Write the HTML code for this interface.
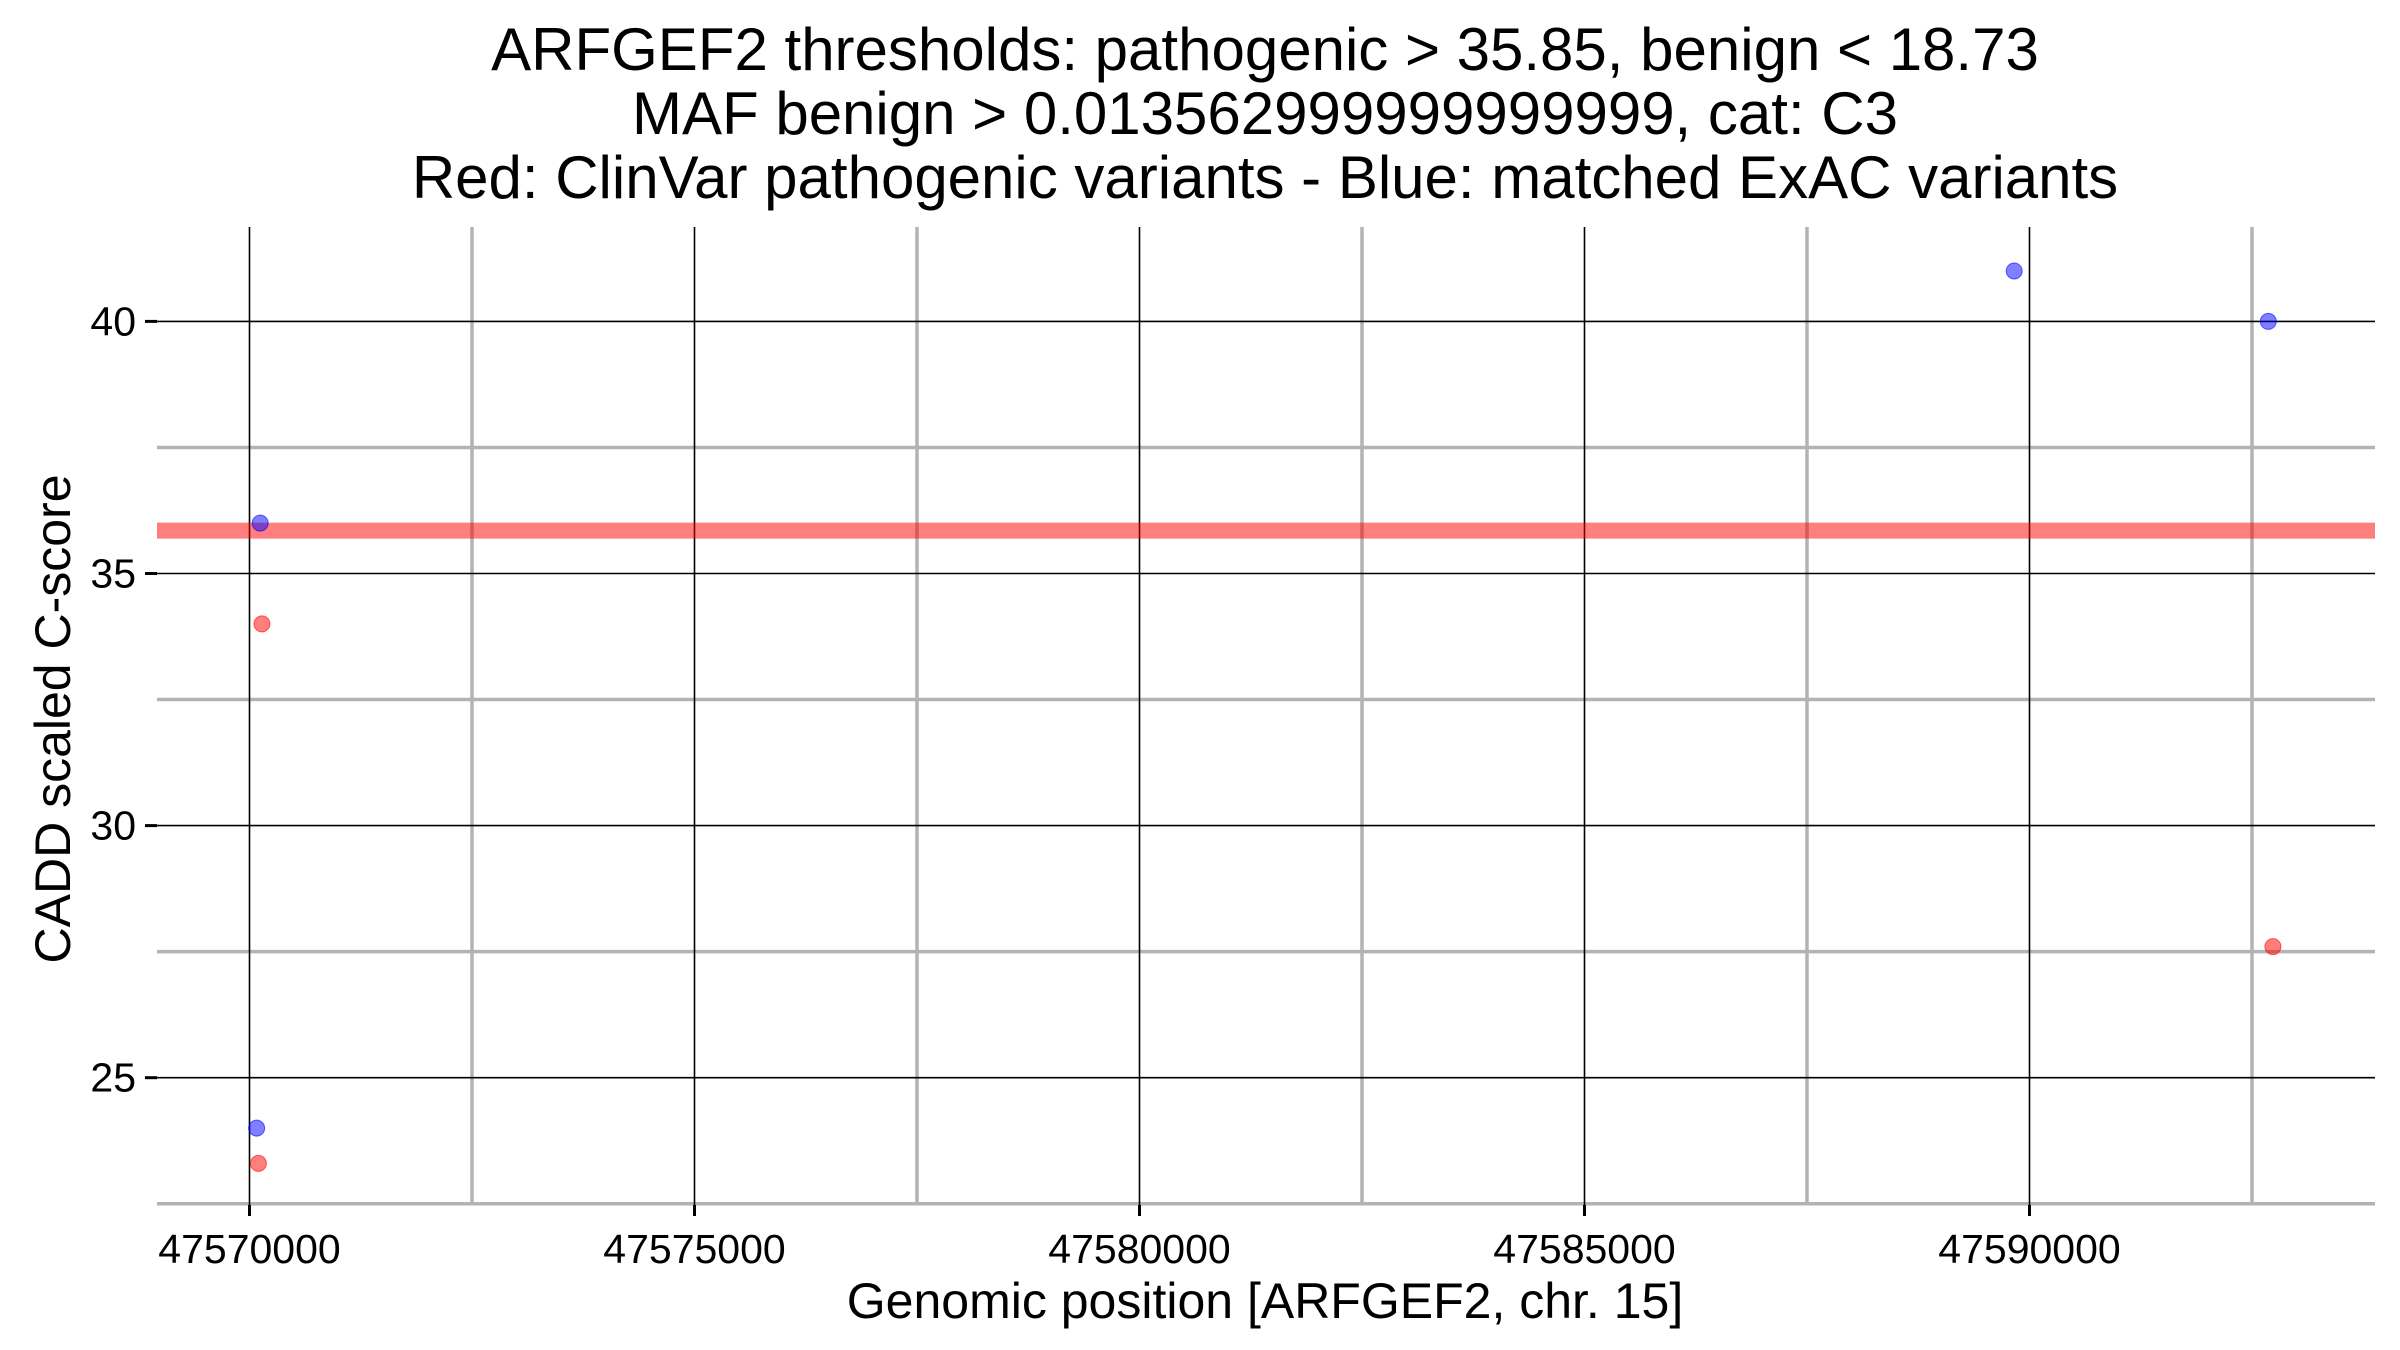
<!DOCTYPE html>
<html><head><meta charset="utf-8"><style>body{margin:0;background:#fff}svg{display:block}</style></head>
<body>
<svg id="chart" width="2400" height="1350" xmlns="http://www.w3.org/2000/svg" font-family="'Liberation Sans', sans-serif">
<g font-size="60" text-anchor="middle" fill="#000">
<text x="1265" y="70">ARFGEF2 thresholds: pathogenic &gt; 35.85, benign &lt; 18.73</text>
<text x="1265" y="134">MAF benign &gt; 0.013562999999999999, cat: C3</text>
<text x="1265" y="198">Red: ClinVar pathogenic variants - Blue: matched ExAC variants</text>
</g>
<g id="grid"></g>
<g id="marks"></g>
<g id="axes"></g>
<text x="1265" y="1318" font-size="50" text-anchor="middle">Genomic position [ARFGEF2, chr. 15]</text>
<text transform="translate(70,719) rotate(-90)" font-size="50" text-anchor="middle">CADD scaled C-score</text>
</svg>
<script>
const xTicks=[47570000,47575000,47580000,47585000,47590000];
const xMinor=[47572500,47577500,47582500,47587500,47592500];
const yTicks=[25,30,35,40];
const yMinor=[22.5,27.5,32.5,37.5];
const blueX=[47589828,47592683,47570120,47570080];
const blueY=[41,40,36,24];
const redX=[47570140,47592735,47570100];
const redY=[34,27.6,23.3];
const pathThreshold=35.85;
const L=157,R=2375,T=227,B=1205;
const xs=v=>249.5+(v-47570000)/5000*445;
const ys=v=>321.4-(v-40)/5*252.1;
const NS='http://www.w3.org/2000/svg';
function mk(p,t,a){const e=document.createElementNS(NS,t);for(const k in a)e.setAttribute(k,a[k]);document.getElementById(p).appendChild(e);return e;}
xMinor.forEach(v=>{const e=mk('grid','line',{x1:xs(v),x2:xs(v),y1:T,y2:B,stroke:'#b3b3b3','stroke-width':3.5});

});
yMinor.forEach(v=>{const e=mk('grid','line',{x1:L,x2:R,y1:ys(v),y2:ys(v),stroke:'#b3b3b3','stroke-width':3.5});

});
xTicks.forEach(v=>{const e=mk('grid','line',{x1:xs(v),x2:xs(v),y1:T,y2:B,stroke:'#000','stroke-width':1.6});


const t=mk('axes','line',{x1:xs(v),x2:xs(v),y1:B,y2:B+11,stroke:'#000','stroke-width':3});


const l=mk('axes','text',{x:xs(v),y:1263,'font-size':41,'text-anchor':'middle'});l.textContent=v;

});
yTicks.forEach(v=>{const e=mk('grid','line',{x1:L,x2:R,y1:ys(v),y2:ys(v),stroke:'#000','stroke-width':1.6});


const t=mk('axes','line',{x1:L-12,x2:L,y1:ys(v),y2:ys(v),stroke:'#000','stroke-width':3});


const l=mk('axes','text',{x:136,y:ys(v)+14,'font-size':41,'text-anchor':'end'});l.textContent=v;

});
const th=mk('marks','line',{x1:L,x2:R,y1:ys(pathThreshold),y2:ys(pathThreshold),stroke:'#ff0000','stroke-opacity':0.5,'stroke-width':16});


blueX.forEach((x,i)=>{const c=mk('marks','circle',{cx:xs(x),cy:ys(blueY[i]),r:8,fill:'#0000ff','fill-opacity':0.5,stroke:'#0000ff','stroke-opacity':0.6,'stroke-width':1});

});
redX.forEach((x,i)=>{const c=mk('marks','circle',{cx:xs(x),cy:ys(redY[i]),r:8,fill:'#ff0000','fill-opacity':0.5,stroke:'#ff0000','stroke-opacity':0.6,'stroke-width':1});

});
</script>
</body></html>
